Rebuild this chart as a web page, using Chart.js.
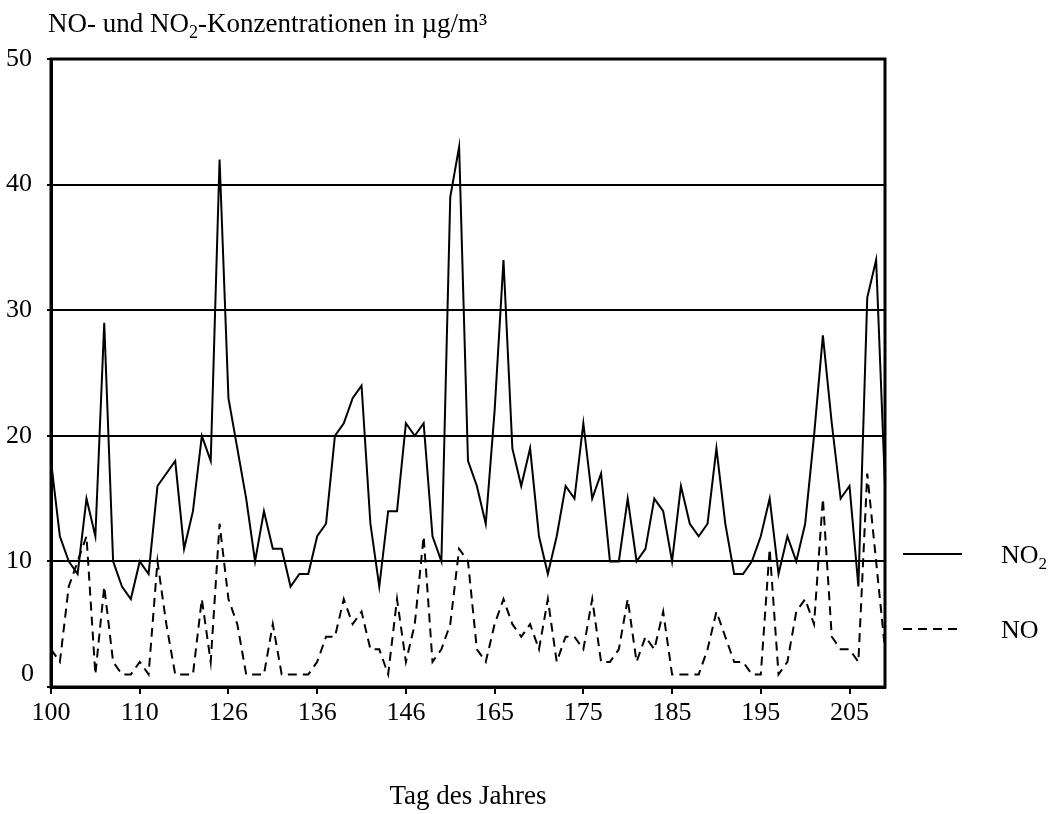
<!DOCTYPE html>
<html lang="de">
<head>
<meta charset="UTF-8">
<title>NO- und NO2-Konzentrationen</title>
<script src="https://cdn.jsdelivr.net/npm/chart.js"></script>
<style>
  body { margin: 0; background: #fff; }
  #wrap { width: 1055px; height: 814px; position: relative; }
</style>
</head>
<body>
<div id="wrap"><canvas id="chart"></canvas></div>
<script>
// Tag des Jahres (Messtage, nicht lückenlos)
const tage = [
  100, 101, 102, 103, 104, 105, 106, 107, 108, 109, 110,
  112, 113, 114, 117, 118, 119, 120, 121, 124,
  126, 127, 128, 129, 130, 131, 132, 133, 134, 135,
  136, 137, 138, 139, 140, 141, 142, 143, 144, 145,
  146, 147, 148, 149, 150, 151, 158, 159, 160, 164,
  165, 166, 167, 168, 169, 170, 171, 172, 173, 174,
  175, 176, 177, 178, 179, 180, 181, 182, 183, 184,
  185, 186, 187, 188, 189, 190, 191, 192, 193, 194,
  195, 196, 197, 198, 199, 200, 201, 202, 203, 204,
  205, 206, 207, 208, 209
];

// Tagesmittel in µg/m³
const no2 = [
  18, 12, 10, 9, 15, 12, 29, 10, 8, 7, 10,
  9, 16, 17, 18, 11, 14, 20, 18, 42,
  23, 19, 15, 10, 14, 11, 11, 8, 9, 9,
  12, 13, 20, 21, 23, 24, 13, 8, 14, 14,
  21, 20, 21, 12, 10, 39, 43, 18, 16, 13,
  22, 34, 19, 16, 19, 12, 9, 12, 16, 15,
  21, 15, 17, 10, 10, 15, 10, 11, 15, 14,
  10, 16, 13, 12, 13, 19, 13, 9, 9, 10,
  12, 15, 9, 12, 10, 13, 20, 28, 21, 15,
  16, 8, 31, 34, 16
];

const no = [
  3, 2, 8, 10, 12, 1, 8, 2, 1, 1, 2,
  1, 10, 5, 1, 1, 1, 7, 2, 13,
  7, 5, 1, 1, 1, 5, 1, 1, 1, 1,
  2, 4, 4, 7, 5, 6, 3, 3, 1, 7,
  2, 5, 12, 2, 3, 5, 11, 10, 3, 2,
  5, 7, 5, 4, 5, 3, 7, 2, 4, 4,
  3, 7, 2, 2, 3, 7, 2, 4, 3, 6,
  1, 1, 1, 1, 3, 6, 4, 2, 2, 1,
  1, 11, 1, 2, 6, 7, 5, 15, 4, 3,
  3, 2, 17, 10, 3
];

const SERIF = '"Liberation Serif", "Times New Roman", serif';
const FS = 26;     // Achsenbeschriftung
const FS_T = 27;   // Überschrift, Achsentitel
const DASH = [9, 6];

// Text mit tiefgestellten Teilen zeichnen: parts = [[text, tief?], ...]
function drawRich(ctx, parts, x, y, size) {
  parts.forEach(([t, sub]) => {
    ctx.font = (sub ? Math.round(size * 0.65) : size) + 'px ' + SERIF;
    ctx.fillText(t, x, sub ? y + size * 0.22 : y);
    x += ctx.measureText(t).width;
  });
}

// Rahmen, Überschrift, Null-Beschriftung und Legende
const deko = {
  id: 'deko',
  afterDraw(chart) {
    const { ctx, chartArea: a } = chart;
    ctx.save();
    ctx.strokeStyle = '#000';
    ctx.lineWidth = 3;
    ctx.strokeRect(a.left, a.top, a.right - a.left, a.bottom - a.top);

    ctx.fillStyle = '#000';
    ctx.textBaseline = 'alphabetic';
    ctx.textAlign = 'left';
    drawRich(ctx, [['NO- und NO'], ['2', true], ['-Konzentrationen in µg/m³']], 48, 32, FS_T);

    // "0" etwas über der Achse, damit sie nicht an "100" stößt
    ctx.font = FS + 'px ' + SERIF;
    ctx.textAlign = 'right';
    ctx.textBaseline = 'middle';
    ctx.fillText('0', 34, 674);
    ctx.textAlign = 'left';
    ctx.textBaseline = 'alphabetic';

    // Legende rechts
    ctx.lineWidth = 2;
    ctx.beginPath();
    ctx.moveTo(903, 554); ctx.lineTo(962, 554);
    ctx.stroke();
    ctx.setLineDash(DASH);
    ctx.beginPath();
    ctx.moveTo(903, 629); ctx.lineTo(962, 629);
    ctx.stroke();
    ctx.setLineDash([]);
    drawRich(ctx, [['NO'], ['2', true]], 1001, 563, FS);
    drawRich(ctx, [['NO']], 1001, 638, FS);
    ctx.restore();
  }
};

new Chart(document.getElementById('chart'), {
  type: 'line',
  data: {
    labels: tage,
    datasets: [
      { label: 'NO2', data: no2, borderColor: '#000', borderWidth: 2, pointRadius: 0, tension: 0 },
      { label: 'NO', data: no, borderColor: '#000', borderWidth: 2, borderDash: DASH, pointRadius: 0, tension: 0 }
    ]
  },
  options: {
    responsive: true,
    maintainAspectRatio: false,
    animation: false,
    devicePixelRatio: 1,
    layout: { padding: { top: 59, right: 170, left: 0, bottom: 0 } },
    plugins: { legend: { display: false }, tooltip: { enabled: false } },
    scales: {
      x: {
        type: 'category',
        offset: false,
        grid: { drawOnChartArea: false, color: '#000', lineWidth: 2, tickLength: 7 },
        border: { color: '#000', width: 3 },
        ticks: {
          autoSkip: false,
          maxRotation: 0,
          color: '#000',
          padding: 4,
          font: { family: SERIF, size: FS },
          callback: (v, i) => (i % 10 === 0 ? tage[i] : null)
        },
        title: {
          display: true,
          text: 'Tag des Jahres',
          color: '#000',
          font: { family: SERIF, size: FS_T },
          padding: { top: 0, bottom: 1 }
        },
        afterFit: s => { s.height = 127; }
      },
      y: {
        min: 0,
        max: 50,
        ticks: {
          stepSize: 10,
          color: '#000',
          padding: 15,
          font: { family: SERIF, size: FS },
          callback: v => (v === 0 ? '' : v)
        },
        grid: { color: '#000', lineWidth: 2, tickLength: 4 },
        border: { color: '#000', width: 3 },
        afterFit: s => { s.width = 51; }
      }
    }
  },
  plugins: [deko]
});
</script>
</body>
</html>
